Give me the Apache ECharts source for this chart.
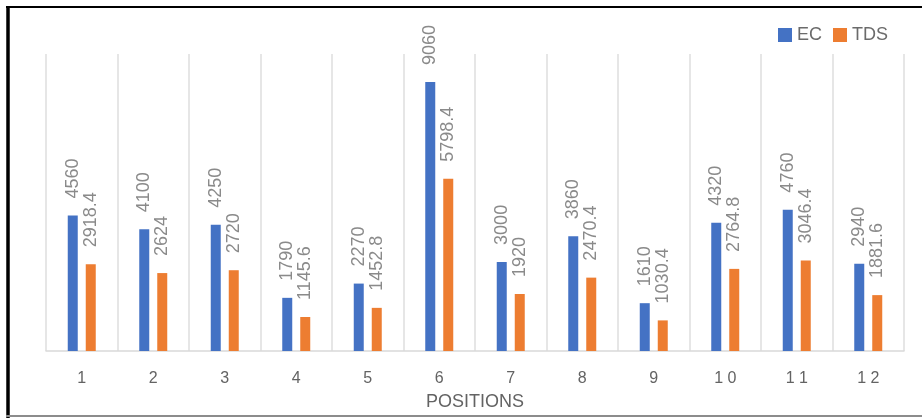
<!DOCTYPE html>
<html>
<head>
<meta charset="utf-8">
<title>EC and TDS by position</title>
<script src="https://cdn.jsdelivr.net/npm/echarts@6/dist/echarts.min.js"></script>
<style>
  html, body { margin: 0; padding: 0; background: #ffffff; }
  #chart { width: 922px; height: 418px; }
</style>
</head>
<body>
<div id="chart"></div>
<script>
// Sample positions along the x axis
const positions = ['1', '2', '3', '4', '5', '6', '7', '8', '9', '10', '11', '12'];
// Electrical conductivity per position
const ecValues = [4560, 4100, 4250, 1790, 2270, 9060, 3000, 3860, 1610, 4320, 4760, 2940];
// Total dissolved solids per position
const tdsValues = [2918.4, 2624, 2720, 1145.6, 1452.8, 5798.4, 1920, 2470.4, 1030.4, 2764.8, 3046.4, 1881.6];

const FONT = '"Liberation Sans", Arial, sans-serif';

const chart = echarts.init(document.getElementById('chart'), null, { renderer: 'canvas' });

// Vertical value labels reading upward, starting a little above each bar
const valueLabel = {
  show: true,
  position: ['50%', -17],
  rotate: 90,
  align: 'left',
  verticalAlign: 'middle',
  color: '#8a8a8a',
  fontFamily: FONT,
  fontSize: 18
};

chart.setOption({
  animation: false,
  backgroundColor: '#ffffff',
  textStyle: { fontFamily: FONT },
  legend: {
    right: 29,
    top: 21,
    itemWidth: 14,
    itemHeight: 14,
    itemGap: 11,
    icon: 'rect',
    textStyle: { color: '#6b6b6b', fontSize: 18, fontFamily: FONT },
    data: ['EC', 'TDS']
  },
  grid: { left: 46, right: 18, top: 54, bottom: 67 },
  xAxis: {
    type: 'category',
    data: positions,
    name: 'POSITIONS',
    nameLocation: 'middle',
    nameGap: 42,
    nameTextStyle: { color: '#636363', fontSize: 18, fontFamily: FONT },
    axisLine: { show: true, lineStyle: { color: '#d9d9d9', width: 1.5 } },
    axisTick: { show: false },
    axisLabel: {
      margin: 20,
      color: '#636363',
      fontSize: 16,
      fontFamily: FONT,
      formatter: v => v.split('').join(' ')
    },
    splitLine: { show: true, interval: 0, lineStyle: { color: '#dedede', width: 1.5 } }
  },
  yAxis: {
    type: 'value',
    min: 0,
    max: 10000,
    show: false,
    splitLine: { show: false }
  },
  series: [
    {
      name: 'EC',
      type: 'bar',
      data: ecValues,
      barWidth: 10,
      barGap: '80%',
      itemStyle: { color: '#4472c4' },
      label: valueLabel
    },
    {
      name: 'TDS',
      type: 'bar',
      data: tdsValues,
      barWidth: 10,
      barGap: '80%',
      itemStyle: { color: '#ed7d31' },
      label: valueLabel
    }
  ],
  graphic: [
    // frame around the chart
    { type: 'line', silent: true, shape: { x1: 6, y1: 7, x2: 922, y2: 7 }, style: { stroke: '#000000', lineWidth: 2 } },
    { type: 'line', silent: true, shape: { x1: 8, y1: 6, x2: 8, y2: 418 }, style: { stroke: '#000000', lineWidth: 3.5 } },
    { type: 'line', silent: true, shape: { x1: 6, y1: 416, x2: 922, y2: 416 }, style: { stroke: '#8c8c8c', lineWidth: 2 } }
  ]
});
</script>
</body>
</html>
